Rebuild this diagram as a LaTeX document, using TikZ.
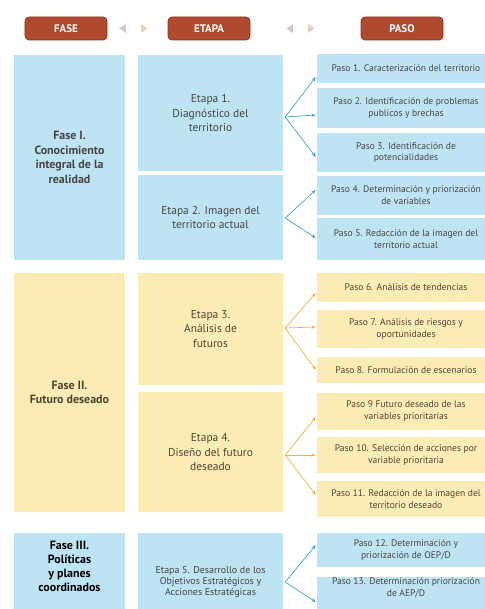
\documentclass[tikz,border=0pt]{standalone}
\usepackage{fontspec}
\setmainfont{PT Sans}
\usetikzlibrary{calc,arrows.meta}
\definecolor{hdr}{HTML}{B04A2F}
\definecolor{hdrdark}{HTML}{8C3622}
\definecolor{bluebg}{HTML}{BEE4F4}
\definecolor{yelbg}{HTML}{FBECB6}
\definecolor{bluearr}{HTML}{3FA3C6}
\definecolor{yelarr}{HTML}{EFB33C}
\definecolor{txtb}{HTML}{454545}
\definecolor{txty}{HTML}{4E4432}
\definecolor{triL}{HTML}{D6C6C8}
\definecolor{triR}{HTML}{EACFC0}
\begin{document}
\begin{tikzpicture}[x=1bp,y=-1bp,
  hdrbox/.style={draw=hdrdark,line width=0.8bp,fill=hdr,rounded corners=4bp,minimum width=82bp,minimum height=23bp,inner sep=0pt,text=white,font=\fontsize{11}{12}\selectfont\bfseries},
  box/.style={inner sep=0pt,align=center},
  fasebox/.style={box,minimum width=111bp,font=\fontsize{12}{14.5}\selectfont\bfseries,text=black},
  etapabox/.style={box,minimum width=145bp,font=\fontsize{11.5}{14.5}\selectfont},
  pasobox/.style={box,minimum width=178bp,font=\fontsize{9.6}{12}\selectfont},
  blue/.style={fill=bluebg,text=txtb},
  yel/.style={fill=yelbg,text=txty},
  fasetxt/.style={inner sep=0pt,align=center,font=\fontsize{12}{14}\selectfont\bfseries,text=black},
  smalltxt/.style={inner sep=0pt,align=center,font=\fontsize{10}{11.5}\selectfont,text=txtb},
  pasotxt/.style={inner sep=0pt,align=center,font=\fontsize{9.6}{12}\selectfont,text=txtb},
  barr/.style={draw=bluearr,line width=0.7bp,-{Stealth[length=4.5bp,width=3.5bp]}},
  yarr/.style={draw=yelarr,line width=0.7bp,-{Stealth[length=4.5bp,width=3.5bp]}}
]
\useasboundingbox (0,0) rectangle (485,609);
\clip (0,0) rectangle (485,609);

% headers
\node[hdrbox] (hf) at (66,28.5) {FASE};
\node[hdrbox] (he) at (209,28.5) {ETAPA};
\node[hdrbox] (hp) at (402,28.5) {PASO};
\fill[triL] (126,24) -- (119,28.5) -- (126,33) -- cycle;
\fill[triR] (141,24) -- (147.5,28.5) -- (141,33) -- cycle;
\fill[triL] (293,24) -- (286.5,28.5) -- (293,33) -- cycle;
\fill[triR] (308,24) -- (314.5,28.5) -- (308,33) -- cycle;

% Fase I
\node[fasebox,blue,minimum height=205bp] (f1) at (69.5,157.5) {Fase I.\\Conocimiento\\integral de la\\realidad};
\node[etapabox,blue,minimum height=116bp] (e1) at (210.5,113) {Etapa 1.\\Diagnóstico del\\territorio};
\node[etapabox,blue,minimum height=85bp] (e2) at (210.5,217.5) {Etapa 2. Imagen del\\territorio actual};
\node[pasobox,blue,minimum height=29bp] (p1) at (406,68.5) {Paso 1. Caracterización del territorio};
\node[pasobox,blue,minimum height=40bp] (p2) at (406,108) {Paso 2. Identificación de problemas\\publicos y brechas};
\node[pasobox,blue,minimum height=39bp] (p3) at (406,152.5) {Paso 3. Identificación de\\potencialidades};
\node[pasobox,blue,minimum height=39bp] (p4) at (406,195.5) {Paso 4. Determinación y priorización\\de variables};
\node[pasobox,blue,minimum height=42bp] (p5) at (406,239) {Paso 5. Redacción de la imagen del\\territorio actual};

% Fase II
\node[fasebox,yel,minimum height=239bp] (f2) at (69.5,392.5) {Fase II.\\Futuro deseado};
\node[etapabox,yel,minimum height=112bp] (e3) at (210.5,329) {Etapa 3.\\Análisis de\\futuros};
\node[etapabox,yel,minimum height=120bp] (e4) at (210.5,452) {Etapa 4.\\Diseño del futuro\\deseado};
\node[pasobox,yel,minimum height=29bp] (p6) at (406,287.5) {Paso 6. Análisis de tendencias};
\node[pasobox,yel,minimum height=38bp] (p7) at (406,329) {Paso 7. Análisis de riesgos y\\oportunidades};
\node[pasobox,yel,minimum height=26bp] (p8) at (406,370) {Paso 8. Formulación de escenarios};
\node[pasobox,yel,minimum height=37bp] (p9) at (406,411.5) {Paso 9 Futuro deseado de las\\variables prioritarias};
\node[pasobox,yel,minimum height=36bp] (p10) at (406,455) {Paso 10. Selección de acciones por\\variable prioritaria};
\node[pasobox,yel,minimum height=36bp] (p11) at (406,499) {Paso 11. Redacción de la imagen del\\territorio deseado};

% Fase III
\node[box,fill=bluebg,minimum width=111bp,minimum height=90bp] (f3) at (69.5,578) {};
\node[fasetxt] (f3t) at (69.5,566) {Fase III.\\Políticas\\y planes\\coordinados};
\node[box,fill=bluebg,minimum width=145bp,minimum height=90bp] (e5) at (210.5,578) {};
\node[smalltxt] (e5t) at (210.5,582) {Etapa 5. Desarrollo de los\\Objetivos Estratégicos y\\Acciones Estratégicas};
\node[pasobox,blue,minimum height=34bp] (p12) at (406,550) {Paso 12. Determinación y\\priorización de OEP/D};
\node[box,fill=bluebg,minimum width=178bp,minimum height=40bp] (p13) at (406,597) {};
\node[pasotxt] (p13t) at (406,588) {Paso 13. Determinación priorización\\de AEP/D};

% arrow origins
\coordinate (o1) at ($(e1.east)+(2,4)$);
\coordinate (o2) at ($(e2.east)+(2,0.5)$);
\coordinate (o3) at ($(e3.east)+(2,-1)$);
\coordinate (o4) at ($(e4.east)+(2,3)$);
\coordinate (o5) at ($(e5.east)+(2,4)$);
% arrow tips
\coordinate (t1) at ($(p1.west)+(-1,8.5)$);
\coordinate (t2) at ($(p2.west)+(-1,7)$);
\coordinate (t3) at ($(p3.west)+(-1,4.5)$);
\coordinate (t4) at ($(p4.west)+(-1,-5.5)$);
\coordinate (t5) at ($(p5.west)+(-1,-1)$);
\coordinate (t6) at ($(p6.west)+(-1,5.5)$);
\coordinate (t7) at ($(p7.west)+(-1,-2)$);
\coordinate (t8) at ($(p8.west)+(-1,0)$);
\coordinate (t9) at ($(p9.west)+(-1,5.5)$);
\coordinate (t10) at ($(p10.west)+(-1,0)$);
\coordinate (t11) at ($(p11.west)+(-1,-4)$);
\coordinate (t12) at ($(p12.west)+(-1,-5)$);
\coordinate (t13) at ($(p13.west)+(-1,5)$);

\draw[barr] (o1) -- (t1);
\draw[barr] (o1) -- (t2);
\draw[barr] (o1) -- (t3);
\draw[barr] (o2) -- (t4);
\draw[barr] (o2) -- (t5);
\draw[yarr] (o3) -- (t6);
\draw[yarr] (o3) -- (t7);
\draw[yarr] (o3) -- (t8);
\draw[yarr] (o4) -- (t9);
\draw[yarr] (o4) -- (t10);
\draw[yarr] (o4) -- (t11);
\draw[barr] (o5) -- (t12);
\draw[barr] (o5) -- (t13);
\end{tikzpicture}
\end{document}
